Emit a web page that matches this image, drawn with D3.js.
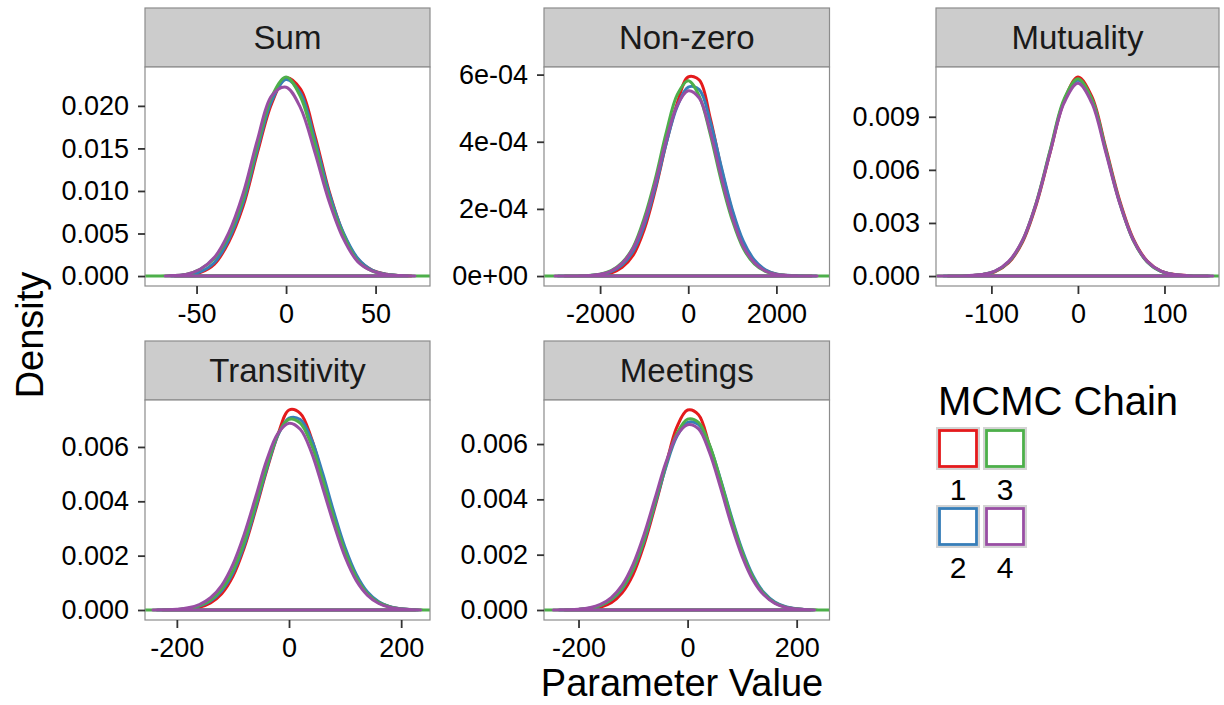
<!DOCTYPE html>
<meta charset="utf-8" />
<head>
  <script src="https://d3js.org/d3.v7.min.js"></script>
  <title>MCMC chain densities</title>
  <style>
    body {
      margin: 0;
      background: #fff;
    }
    text {
      font-family: "Liberation Sans", Arial, Helvetica, sans-serif;
    }
    .axis path.domain {
      display: none;
    }
    .axis line {
      stroke: #333;
      stroke-width: 1.8;
    }
    .axis text {
      font-size: 27px;
      fill: #000;
    }
  </style>
</head>
<body>
  <svg id="chart" width="1224" height="705"></svg>
</body>

<script>
  const chains = ["1", "2", "3", "4"];
  // all densities below are written in units of 1e-4
  const densityUnit = 1e-4;

  // Sum
  const sumGrid = [-72, -64, -56, -48, -40, -32, -24, -16, -8, 0, 8, 16, 24, 32, 40, 48, 56, 64, 72];
  const sumDensity = [
    [0.1, 0.3, 1.2, 4, 14, 40, 82, 145, 203, 233, 220, 166, 100, 50, 20, 7, 2.1, 0.5, 0.1],
    [0.1, 0.4, 1.5, 5, 16, 43, 86, 149, 206, 231, 215, 161, 98, 51, 21, 7, 2, 0.5, 0.1],
    [0.1, 0.5, 1.9, 8, 21, 48, 91, 154, 211, 234, 211, 155, 92, 48, 18, 6, 1.9, 0.5, 0.1],
    [0.1, 0.5, 2, 8, 22, 51, 97, 160, 212, 222, 198, 146, 88, 44, 17, 6, 1.8, 0.5, 0.1],
  ];
  const sumExtent = [[-62, 70], [-64, 68], [-78.8, 80.4], [-67.5, 72]];
  const sumXTicks = [-50, 0, 50];
  const sumYTicks = [0, 0.005, 0.01, 0.015, 0.02];
  const sumYLabels = ["0.000", "0.005", "0.010", "0.015", "0.020"];

  // Non-zero
  const nzGrid = [-3000, -2750, -2500, -2250, -2000, -1750, -1500, -1250, -1000, -750, -500, -250, 0,
    250, 500, 750, 1000, 1250, 1500, 1750, 2000, 2250, 2500, 2750, 3000];
  const nzDensity = [
    [0, 0.0005, 0.002, 0.008, 0.028, 0.09, 0.26, 0.62, 1.38, 2.55, 3.95, 5.15, 5.93, 5.84, 4.7, 3.2, 1.92, 0.98, 0.44, 0.17, 0.058, 0.018, 0.005, 0.0015, 0],
    [0.0003, 0.001, 0.004, 0.014, 0.045, 0.13, 0.33, 0.74, 1.5, 2.62, 3.95, 5.05, 5.63, 5.55, 4.6, 3.25, 1.98, 1.04, 0.48, 0.19, 0.066, 0.021, 0.006, 0.0017, 0.0004],
    [0.0004, 0.0015, 0.005, 0.018, 0.055, 0.16, 0.4, 0.86, 1.72, 2.88, 4.27, 5.4, 5.82, 5.36, 4.22, 2.83, 1.66, 0.82, 0.36, 0.14, 0.047, 0.015, 0.004, 0.001, 0.0003],
    [0.0004, 0.0015, 0.005, 0.017, 0.052, 0.15, 0.38, 0.83, 1.62, 2.75, 4.05, 5.08, 5.52, 5.3, 4.3, 2.95, 1.75, 0.88, 0.4, 0.15, 0.05, 0.016, 0.005, 0.0013, 0.0003],
  ];
  const nzExtent = [[-2800, 2800], [-2950, 2900], [-3273, 3205], [-3023, 2925]];
  const nzXTicks = [-2000, 0, 2000];
  const nzYTicks = [0, 2e-4, 4e-4, 6e-4];
  const nzYLabels = ["0e+00", "2e-04", "4e-04", "6e-04"];

  // Mutuality
  const muGrid = [-160, -144, -128, -112, -96, -80, -64, -48, -32, -16, 0, 16, 32, 48, 64, 80, 96, 112, 128, 144, 160];
  const muDensity = [
    [0, 0.04, 0.18, 0.7, 2.4, 7.5, 19.2, 40.5, 70, 99, 112.5, 101.5, 72.8, 43, 21, 8.5, 2.8, 0.85, 0.22, 0.05, 0],
    [0.01, 0.05, 0.2, 0.8, 2.6, 7.9, 19.9, 41.3, 70.8, 99, 110.6, 100, 71.5, 42, 20.3, 8.1, 2.6, 0.8, 0.2, 0.05, 0.01],
    [0.01, 0.05, 0.2, 0.8, 2.6, 8, 20.1, 41.8, 71.4, 100, 111.5, 100, 71.4, 41.8, 20.1, 8, 2.6, 0.8, 0.2, 0.05, 0.01],
    [0.01, 0.05, 0.22, 0.85, 2.8, 8.3, 20.3, 41.5, 70.2, 97.8, 108.9, 97.8, 70.2, 41.5, 20.3, 8.3, 2.8, 0.85, 0.22, 0.05, 0.01],
  ];
  const muExtent = [[-150, 150], [-155, 152], [-164, 163], [-162, 156]];
  const muXTicks = [-100, 0, 100];
  const muYTicks = [0, 0.003, 0.006, 0.009];
  const muYLabels = ["0.000", "0.003", "0.006", "0.009"];

  // Transitivity
  const trGrid = [-240, -220, -200, -180, -160, -140, -120, -100, -80, -60, -40, -20, 0,
    20, 40, 60, 80, 100, 120, 140, 160, 180, 200, 220, 240];
  const trDensity = [
    [0, 0.03, 0.1, 0.35, 1, 2.6, 6, 12.4, 22.8, 36.5, 51.2, 64.4, 73.6, 72.4, 63.2, 49, 35, 22, 12.4, 6.2, 2.8, 1.1, 0.4, 0.12, 0],
    [0.02, 0.05, 0.16, 0.5, 1.4, 3.3, 7.1, 13.6, 23.8, 37.3, 51.8, 64.2, 70.6, 70.1, 62.8, 50.3, 36, 23, 13.1, 6.6, 3, 1.2, 0.45, 0.15, 0.05],
    [0.02, 0.06, 0.2, 0.6, 1.6, 3.7, 7.8, 14.6, 25, 38.5, 52.8, 64.6, 70.2, 68.8, 60.8, 48, 33.9, 21.4, 12, 6, 2.7, 1.1, 0.4, 0.13, 0.04],
    [0.03, 0.1, 0.3, 0.8, 2, 4.5, 9.1, 16.8, 27.8, 41.2, 55, 64.9, 68.7, 66.5, 58, 45, 31.5, 19.5, 10.8, 5.4, 2.4, 0.95, 0.35, 0.12, 0.04],
  ];
  const trExtent = [[-225, 225], [-235, 230], [-256.8, 251.4], [-242.5, 234.8]];
  const trXTicks = [-200, 0, 200];
  const trYTicks = [0, 0.002, 0.004, 0.006];
  const trYLabels = ["0.000", "0.002", "0.004", "0.006"];

  // Meetings
  const meGrid = trGrid;
  const meDensity = [
    [0, 0.03, 0.1, 0.35, 1, 2.6, 6.2, 12.8, 23.5, 37.2, 52, 66, 72.3, 70.6, 59.5, 46.8, 33, 20.8, 11.7, 5.8, 2.6, 1, 0.36, 0.11, 0],
    [0.02, 0.07, 0.2, 0.6, 1.6, 3.7, 7.6, 14.5, 24.8, 38, 51.5, 62.6, 67.8, 67, 59.5, 47.5, 34, 21.8, 12.4, 6.3, 2.9, 1.2, 0.45, 0.15, 0.05],
    [0.02, 0.07, 0.22, 0.65, 1.7, 3.9, 8, 15, 25.5, 38.8, 52.5, 63.6, 69, 67.8, 59.8, 47.2, 33.3, 21, 11.8, 5.9, 2.6, 1.05, 0.38, 0.12, 0.04],
    [0.03, 0.1, 0.3, 0.8, 2, 4.5, 9, 16.5, 27.2, 40.2, 53.2, 63, 67, 65.5, 57, 44.5, 31, 19.4, 10.8, 5.4, 2.4, 0.95, 0.35, 0.12, 0.04],
  ];
  const meExtent = [[-225, 225], [-235, 230], [-263.3, 260.2], [-246, 233]];
  const meXTicks = [-200, 0, 200];
  const meYTicks = [0, 0.002, 0.004, 0.006];
  const meYLabels = ["0.000", "0.002", "0.004", "0.006"];

  const panels = [
    { name: "Sum", grid: sumGrid, density: sumDensity, extent: sumExtent, xTicks: sumXTicks, yTicks: sumYTicks, yLabels: sumYLabels },
    { name: "Non-zero", grid: nzGrid, density: nzDensity, extent: nzExtent, xTicks: nzXTicks, yTicks: nzYTicks, yLabels: nzYLabels },
    { name: "Mutuality", grid: muGrid, density: muDensity, extent: muExtent, xTicks: muXTicks, yTicks: muYTicks, yLabels: muYLabels },
    { name: "Transitivity", grid: trGrid, density: trDensity, extent: trExtent, xTicks: trXTicks, yTicks: trYTicks, yLabels: trYLabels },
    { name: "Meetings", grid: meGrid, density: meDensity, extent: meExtent, xTicks: meXTicks, yTicks: meYTicks, yLabels: meYLabels },
  ];

  // panel boxes (plot area + strip top)
  const boxes = [
    { x0: 145, x1: 430, y0: 67, y1: 286, s0: 8 },
    { x0: 544, x1: 829.5, y0: 67, y1: 286, s0: 8 },
    { x0: 936, x1: 1219, y0: 67, y1: 286, s0: 8 },
    { x0: 145, x1: 430, y0: 400, y1: 620, s0: 341 },
    { x0: 544, x1: 829.5, y0: 400, y1: 620, s0: 341 },
  ];

  const color = d3
    .scaleOrdinal()
    .domain(chains)
    .range(["#E41A1C", "#377EB8", "#4DAF4A", "#984EA3"]);

  const svg = d3.select("#chart");
  const defs = svg.append("defs");

  panels.forEach((p, k) => {
    const b = boxes[k];
    const g = svg.append("g").attr("class", "panel");

    const xMin = d3.min(p.extent, (e) => e[0]);
    const xMax = d3.max(p.extent, (e) => e[1]);
    const yMax = d3.max(p.density, (c) => d3.max(c)) * densityUnit;

    const x = d3.scaleLinear().domain([xMin, xMax]).range([b.x0, b.x1]);
    const y = d3
      .scaleLinear()
      .domain([-0.05 * yMax, 1.05 * yMax])
      .range([b.y1, b.y0]);

    // strip
    g.append("rect")
      .attr("x", b.x0)
      .attr("y", b.s0)
      .attr("width", b.x1 - b.x0)
      .attr("height", b.y0 - b.s0)
      .attr("fill", "#cccccc")
      .attr("stroke", "#8c8c8c")
      .attr("stroke-width", 1.2);
    g.append("text")
      .attr("x", (b.x0 + b.x1) / 2)
      .attr("y", (b.s0 + b.y0) / 2)
      .attr("dy", "0.36em")
      .attr("text-anchor", "middle")
      .style("font-size", "33px")
      .style("fill", "#1a1a1a")
      .text(p.name);

    g.append("rect")
      .attr("x", b.x0)
      .attr("y", b.y0)
      .attr("width", b.x1 - b.x0)
      .attr("height", b.y1 - b.y0)
      .attr("fill", "#fff");

    defs
      .append("clipPath")
      .attr("id", "clip" + k)
      .append("rect")
      .attr("x", b.x0)
      .attr("y", b.y0)
      .attr("width", b.x1 - b.x0)
      .attr("height", b.y1 - b.y0);

    const line = d3
      .line()
      .curve(d3.curveCatmullRom.alpha(0.5))
      .x((d) => x(d[0]))
      .y((d) => y(d[1]));

    const curves = g.append("g").attr("clip-path", `url(#clip${k})`);
    chains.forEach((ch, i) => {
      const ext = p.extent[i];
      const pts = p.grid
        .map((v, j) => [v, p.density[i][j] * densityUnit])
        .filter((d) => d[0] > ext[0] && d[0] < ext[1]);
      pts.unshift([ext[0], 0]);
      pts.push([ext[1], 0]);
      curves
        .append("path")
        .attr("fill", "none")
        .attr("stroke", color(ch))
        .attr("stroke-width", 3)
        .attr("stroke-linejoin", "round")
        .attr("d", line(pts) + "Z");
    });

    g.append("rect")
      .attr("x", b.x0)
      .attr("y", b.y0)
      .attr("width", b.x1 - b.x0)
      .attr("height", b.y1 - b.y0)
      .attr("fill", "none")
      .attr("stroke", "#8c8c8c")
      .attr("stroke-width", 1.2);

    g.append("g")
      .attr("class", "axis")
      .attr("transform", `translate(${b.x0},0)`)
      .call(
        d3
          .axisLeft(y)
          .tickValues(p.yTicks)
          .tickFormat((d, i) => p.yLabels[i])
          .tickSize(7)
          .tickPadding(9)
      );

    g.append("g")
      .attr("class", "axis")
      .attr("transform", `translate(0,${b.y1})`)
      .call(
        d3
          .axisBottom(x)
          .tickValues(p.xTicks)
          .tickFormat((d) => String(d))
          .tickSize(8)
          .tickPadding(10)
      );
  });

  // axis titles
  svg
    .append("text")
    .attr("transform", "translate(43,335) rotate(-90)")
    .attr("text-anchor", "middle")
    .style("font-size", "38px")
    .text("Density");

  svg
    .append("text")
    .attr("x", 682)
    .attr("y", 696)
    .attr("text-anchor", "middle")
    .style("font-size", "38px")
    .text("Parameter Value");

  // legend
  const legend = svg.append("g").attr("class", "legend");
  legend
    .append("text")
    .attr("x", 938)
    .attr("y", 415)
    .style("font-size", "40px")
    .text("MCMC Chain");

  const keyPos = [
    [937, 428],
    [937, 506],
    [984, 428],
    [984, 506],
  ];
  chains.forEach((ch, i) => {
    const [kx, ky] = keyPos[i];
    legend
      .append("rect")
      .attr("x", kx)
      .attr("y", ky)
      .attr("width", 42)
      .attr("height", 41)
      .attr("fill", "#fff")
      .attr("stroke", "#d4d4d4")
      .attr("stroke-width", 2);
    legend
      .append("rect")
      .attr("x", kx + 2.5)
      .attr("y", ky + 2.5)
      .attr("width", 37)
      .attr("height", 36)
      .attr("fill", "none")
      .attr("stroke", color(ch))
      .attr("stroke-width", 2.8);
    legend
      .append("text")
      .attr("x", kx + 21)
      .attr("y", ky + 72)
      .attr("text-anchor", "middle")
      .style("font-size", "30px")
      .text(ch);
  });
</script>
